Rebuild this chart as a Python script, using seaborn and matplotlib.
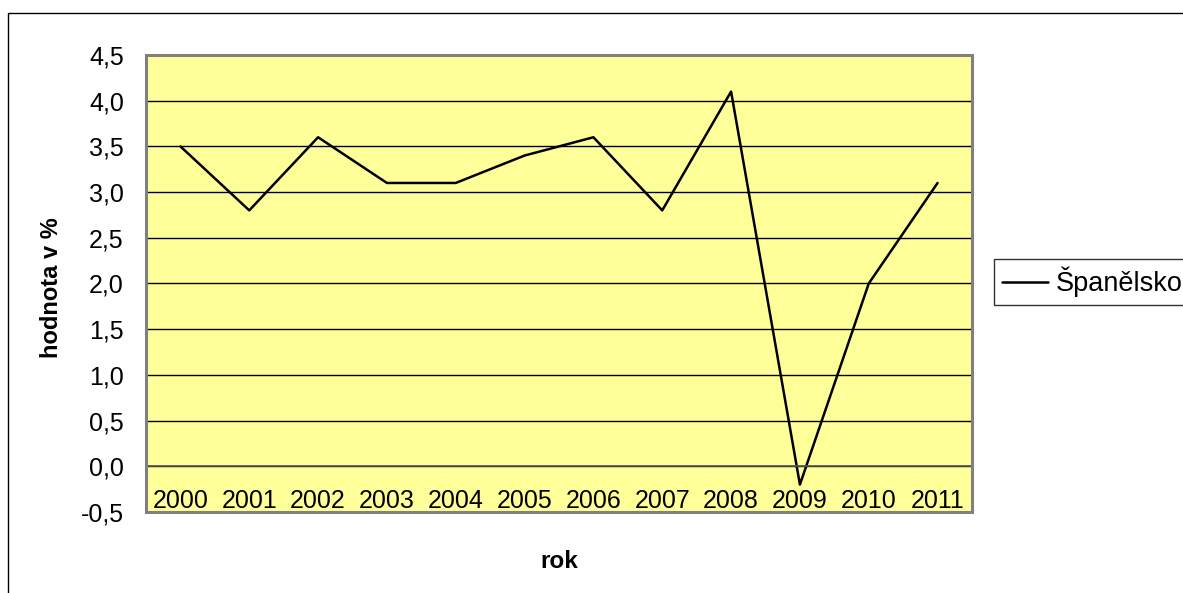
import numpy as np
import pandas as pd
import matplotlib
matplotlib.use("Agg")
import matplotlib.pyplot as plt
from matplotlib.patches import Rectangle
import seaborn as sns

# Annual values for Spain, in percent
years = ["2000", "2001", "2002", "2003", "2004", "2005",
         "2006", "2007", "2008", "2009", "2010", "2011"]
values = [3.5, 2.8, 3.6, 3.1, 3.1, 3.4, 3.6, 2.8, 4.1, -0.2, 2.0, 3.1]
series_name = "Španělsko"
y_ticks = [-0.5, 0.0, 0.5, 1.0, 1.5, 2.0, 2.5, 3.0, 3.5, 4.0, 4.5]
x_label = "rok"
y_label = "hodnota v %"

sns.set_style("white", {"text.color": "black", "xtick.color": "black",
                        "ytick.color": "black", "axes.labelcolor": "black"})
plt.rcParams["font.family"] = ["Liberation Sans", "DejaVu Sans"]

W, H = 1183, 593
fig = plt.figure(figsize=(W / 100, H / 100), dpi=100)
fig.patch.set_facecolor("white")

# outer chart-area frame (extends past the right and bottom edges)
fig.patches.append(Rectangle((8 / W, -0.1), 1.2, 1 - 13 / H + 0.1,
                             transform=fig.transFigure, fill=False,
                             edgecolor="black", linewidth=1.0, zorder=0))

left, right, top, bottom = 146, 972, 55, 512
ax = fig.add_axes([left / W, 1 - bottom / H, (right - left) / W, (bottom - top) / H])
ax.set_facecolor("#FFFF99")

df = pd.DataFrame({"pos": np.arange(len(years)), "value": values, "series": series_name})
sns.lineplot(data=df, x="pos", y="value", hue="series", palette=["black"],
             linewidth=1.8, ax=ax, legend=True)

ax.set_xlim(-0.5, len(years) - 0.5)
ax.set_ylim(y_ticks[0], y_ticks[-1])

# horizontal gridlines
ax.set_yticks(y_ticks)
ax.set_yticklabels([f"{v:.1f}".replace(".", ",") for v in y_ticks], fontsize=18)
ax.yaxis.grid(True, color="black", linewidth=1.0)
ax.xaxis.grid(False)
ax.set_axisbelow(True)
ax.tick_params(axis="y", direction="out", length=6, width=1, color="black",
               labelcolor="black", pad=10)

# category axis crosses at zero; labels sit low in the plot area
ax.spines["bottom"].set_position(("data", 0))
ax.spines["bottom"].set_color("#555555")
ax.spines["bottom"].set_linewidth(1.2)
ax.set_xticks(np.arange(len(years)))
ax.set_xticklabels(years, fontsize=18)
ax.set_xticks(np.arange(len(years) + 1) - 0.5, minor=True)
ax.tick_params(axis="x", which="major", length=0, pad=16, labelcolor="black")
ax.tick_params(axis="x", which="minor", direction="out", length=6, width=1, color="black")

ax.spines["left"].set_color("#222222")
ax.spines["left"].set_linewidth(1.2)
for s in ("top", "right"):
    ax.spines[s].set_visible(False)

# grey plot-area border
ax.add_patch(Rectangle((0, 0), 1, 1, transform=ax.transAxes, fill=False,
                       edgecolor="#808080", linewidth=2.2, zorder=5, clip_on=False))

ax.set_xlabel(x_label, fontsize=17.5, fontweight="bold", color="black")
ax.set_ylabel(y_label, fontsize=17, fontweight="bold", color="black")
ax.xaxis.set_label_coords(0.5, -0.083)
ax.yaxis.set_label_coords(-0.101, 0.49)

handles, labels = ax.get_legend_handles_labels()
ax.legend(handles, labels, loc="center left", bbox_to_anchor=(994 / W, 1 - 282 / H),
          bbox_transform=fig.transFigure, frameon=True, fancybox=False,
          edgecolor="black", fontsize=19.5, handlelength=1.7, handletextpad=0.3,
          borderpad=0.28, borderaxespad=0)
leg = ax.get_legend()
leg.get_frame().set_linewidth(1.0)
for t in leg.get_texts():
    t.set_color("black")

fig.savefig("out.png", dpi=100)
